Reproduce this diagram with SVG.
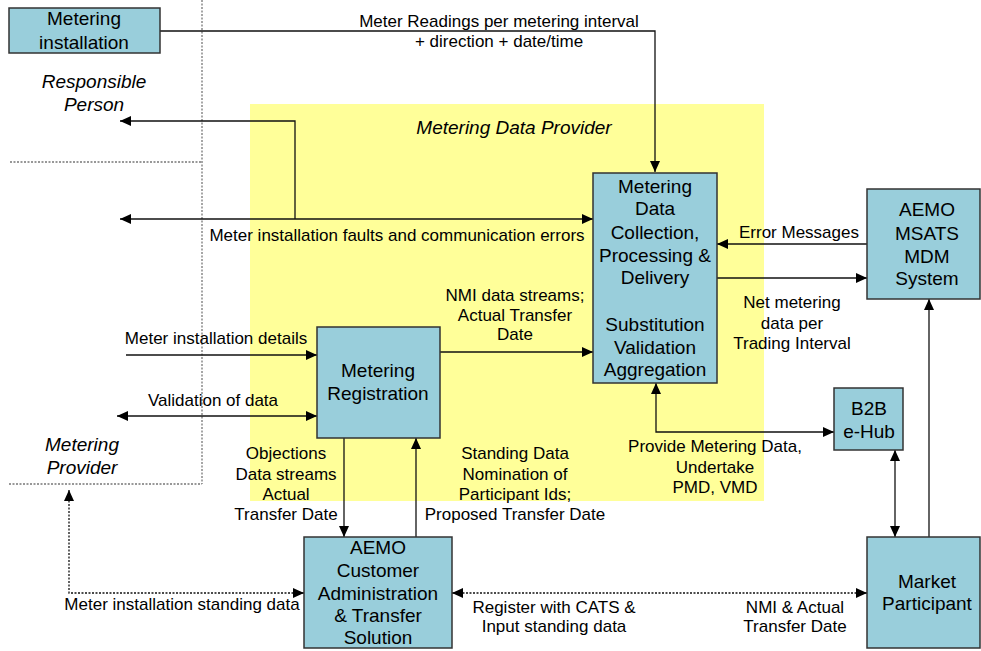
<svg xmlns="http://www.w3.org/2000/svg" width="981" height="651" viewBox="0 0 981 651">
<defs>
<marker id="ah" markerUnits="userSpaceOnUse" markerWidth="12" markerHeight="10" refX="11" refY="5" orient="auto-start-reverse">
<path d="M0,0 L11,5 L0,10 z" fill="#000"/>
</marker>
<style>
.box{fill:#99CEDB;stroke:#333;stroke-width:1.5}
.bt{font-family:"Liberation Sans",Arial,sans-serif;font-size:19px;fill:#000;text-anchor:middle}
.lt{font-family:"Liberation Sans",Arial,sans-serif;font-size:17px;fill:#000;text-anchor:middle}
.it{font-family:"Liberation Sans",Arial,sans-serif;font-size:19px;font-style:italic;fill:#000;text-anchor:middle}
.c{fill:none;stroke:#111;stroke-width:1.3}
.d{fill:none;stroke:#111;stroke-width:1.3;stroke-dasharray:2,1.5}
.sep{fill:none;stroke:#777;stroke-width:1.3;stroke-dasharray:2,1.5}
</style>
</defs>
<rect width="981" height="651" fill="#fff"/>
<rect id="mdp-zone" x="250" y="104" width="514" height="397" fill="#FFFF99"/>
<g id="separators">
<path class="sep" d="M202,0 V484"/>
<path class="sep" d="M10,162 H202"/>
<path class="sep" d="M9,484 H202"/>
</g>
<g id="zone-labels">
<text class="it" x="514" y="134">Metering Data Provider</text>
<text class="it" x="94" y="88">Responsible</text>
<text class="it" x="94" y="111">Person</text>
<text class="it" x="82" y="451">Metering</text>
<text class="it" x="82" y="474">Provider</text>
</g>
<g id="connectors">
<path class="c" d="M160,31 H655 V172" marker-end="url(#ah)"/>
<path class="c" d="M295,219 V121 H120" marker-end="url(#ah)"/>
<path class="c" d="M120,219 H593" marker-start="url(#ah)" marker-end="url(#ah)"/>
<path class="c" d="M867,244 H717" marker-end="url(#ah)"/>
<path class="c" d="M717,278 H867" marker-end="url(#ah)"/>
<path class="c" d="M126,355 H317" marker-end="url(#ah)"/>
<path class="c" d="M117,416 H317" marker-start="url(#ah)" marker-end="url(#ah)"/>
<path class="c" d="M440,352 H593" marker-end="url(#ah)"/>
<path class="c" d="M344,438 V537" marker-end="url(#ah)"/>
<path class="c" d="M416,537 V438" marker-end="url(#ah)"/>
<path class="c" d="M656,383 V432 H834" marker-start="url(#ah)" marker-end="url(#ah)"/>
<path class="c" d="M895,450 V537" marker-start="url(#ah)" marker-end="url(#ah)"/>
<path class="c" d="M929,537 V299" marker-end="url(#ah)"/>
<path class="d" d="M69,490 V593 H304" marker-start="url(#ah)" marker-end="url(#ah)"/>
<path class="d" d="M452,593 H867" marker-start="url(#ah)" marker-end="url(#ah)"/>
</g>
<g id="connector-labels">
<text class="lt" x="499" y="27">Meter Readings per metering interval</text>
<text class="lt" x="499" y="47">+ direction + date/time</text>
<text class="lt" x="397" y="241">Meter installation faults and communication errors</text>
<text class="lt" x="799" y="238">Error Messages</text>
<text class="lt" x="792" y="308">Net metering</text>
<text class="lt" x="792" y="329">data per</text>
<text class="lt" x="792" y="349">Trading Interval</text>
<text class="lt" x="515" y="301">NMI data streams;</text>
<text class="lt" x="515" y="321">Actual Transfer</text>
<text class="lt" x="515" y="340">Date</text>
<text class="lt" x="216" y="344">Meter installation details</text>
<text class="lt" x="213" y="406">Validation of data</text>
<text class="lt" x="286" y="459">Objections</text>
<text class="lt" x="286" y="480">Data streams</text>
<text class="lt" x="286" y="500">Actual</text>
<text class="lt" x="286" y="520">Transfer Date</text>
<text class="lt" x="515" y="459">Standing Data</text>
<text class="lt" x="515" y="480">Nomination of</text>
<text class="lt" x="515" y="500">Participant Ids;</text>
<text class="lt" x="515" y="520">Proposed Transfer Date</text>
<text class="lt" x="715" y="452">Provide Metering Data,</text>
<text class="lt" x="715" y="473">Undertake</text>
<text class="lt" x="715" y="493">PMD, VMD</text>
<text class="lt" x="182" y="610">Meter installation standing data</text>
<text class="lt" x="554" y="613">Register with CATS &amp;</text>
<text class="lt" x="554" y="632">Input standing data</text>
<text class="lt" x="795" y="613">NMI &amp; Actual</text>
<text class="lt" x="795" y="632">Transfer Date</text>
</g>
<g id="metering-installation">
<rect class="box" x="9" y="8" width="151" height="45"/>
<text class="bt" x="84" y="25">Metering</text>
<text class="bt" x="84" y="49">installation</text>
</g>
<g id="mdc">
<rect class="box" x="593" y="173" width="124" height="210"/>
<text class="bt" x="655" y="193">Metering</text>
<text class="bt" x="655" y="215">Data</text>
<text class="bt" x="655" y="239">Collection,</text>
<text class="bt" x="655" y="262">Processing &amp;</text>
<text class="bt" x="655" y="284">Delivery</text>
<text class="bt" x="655" y="331">Substitution</text>
<text class="bt" x="655" y="354">Validation</text>
<text class="bt" x="655" y="376">Aggregation</text>
</g>
<g id="msats">
<rect class="box" x="867" y="189" width="113" height="110"/>
<text class="bt" x="927" y="216">AEMO</text>
<text class="bt" x="927" y="240">MSATS</text>
<text class="bt" x="927" y="263">MDM</text>
<text class="bt" x="927" y="285">System</text>
</g>
<g id="metering-registration">
<rect class="box" x="317" y="327" width="123" height="111"/>
<text class="bt" x="378" y="377">Metering</text>
<text class="bt" x="378" y="400">Registration</text>
</g>
<g id="b2b">
<rect class="box" x="834" y="388" width="69" height="62"/>
<text class="bt" x="869" y="415">B2B</text>
<text class="bt" x="869" y="438">e-Hub</text>
</g>
<g id="aemo-cats">
<rect class="box" x="304" y="537" width="148" height="111"/>
<text class="bt" x="378" y="554">AEMO</text>
<text class="bt" x="378" y="577">Customer</text>
<text class="bt" x="378" y="600">Administration</text>
<text class="bt" x="378" y="622">&amp; Transfer</text>
<text class="bt" x="378" y="644">Solution</text>
</g>
<g id="market-participant">
<rect class="box" x="867" y="537" width="113" height="111"/>
<text class="bt" x="927" y="588">Market</text>
<text class="bt" x="927" y="610">Participant</text>
</g>
</svg>
